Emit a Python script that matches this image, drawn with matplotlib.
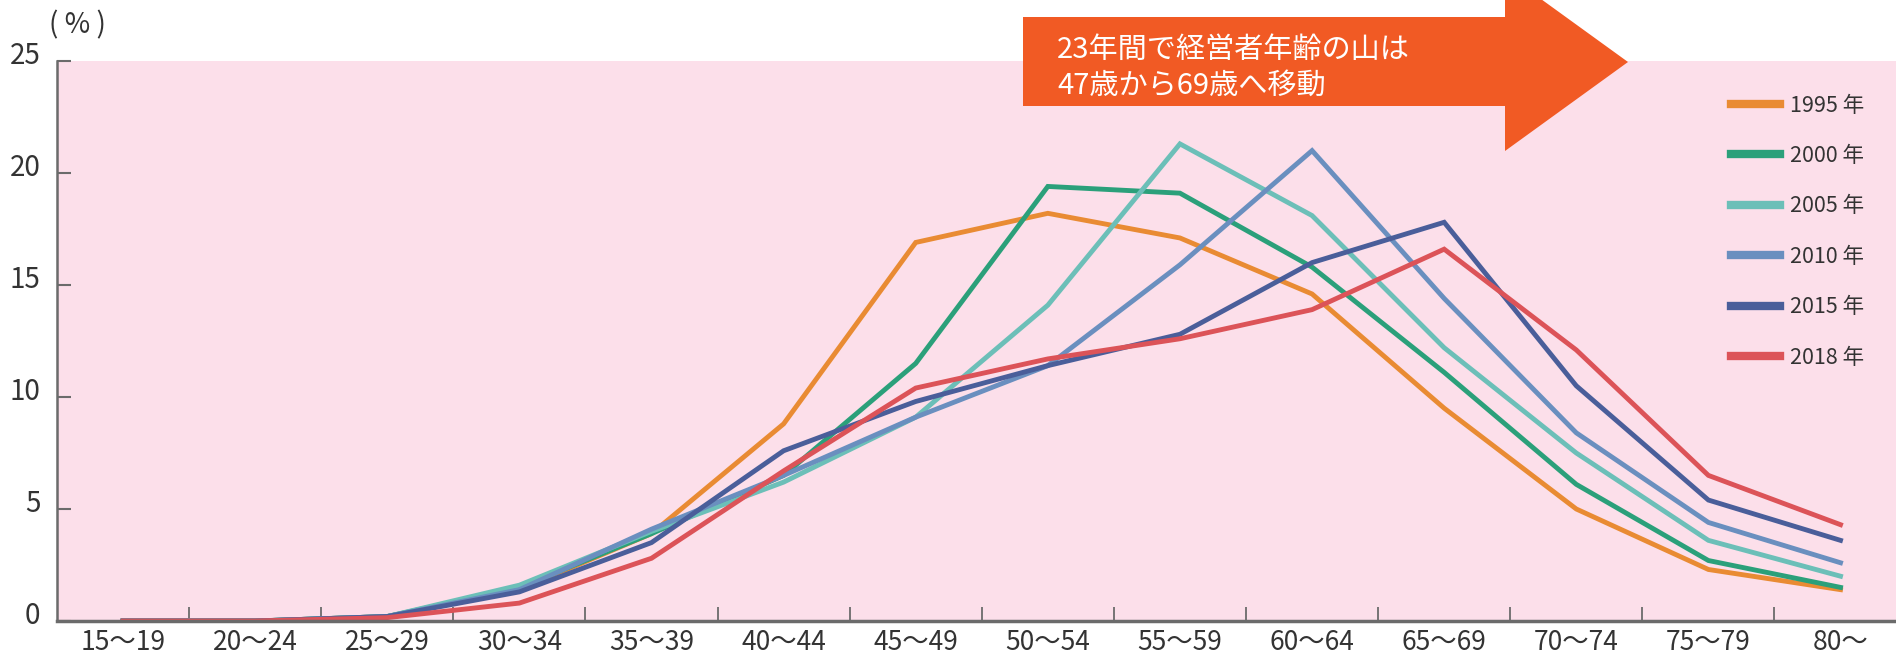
import numpy as np
import matplotlib.pyplot as plt
import matplotlib.transforms as mtransforms
from matplotlib.patches import Polygon

plt.rcParams['font.family'] = ['Noto Sans CJK JP', 'DejaVu Sans']

# 年齢階級
categories = ['15〜19', '20〜24', '25〜29', '30〜34', '35〜39', '40〜44', '45〜49',
              '50〜54', '55〜59', '60〜64', '65〜69', '70〜74', '75〜79', '80〜']

# 経営者年齢の分布 (%)
y1995 = [0.0, 0.0, 0.2, 1.4, 3.9, 8.8, 16.9, 18.2, 17.1, 14.6, 9.5, 5.0, 2.3, 1.4]
y2000 = [0.0, 0.0, 0.2, 1.5, 3.9, 6.5, 11.5, 19.4, 19.1, 15.8, 11.1, 6.1, 2.7, 1.5]
y2005 = [0.0, 0.0, 0.2, 1.6, 4.0, 6.2, 9.1, 14.1, 21.3, 18.1, 12.2, 7.5, 3.6, 2.0]
y2010 = [0.0, 0.0, 0.2, 1.4, 4.1, 6.5, 9.1, 11.4, 15.9, 21.0, 14.4, 8.4, 4.4, 2.6]
y2015 = [0.0, 0.0, 0.2, 1.3, 3.5, 7.6, 9.8, 11.4, 12.8, 16.0, 17.8, 10.5, 5.4, 3.6]
y2018 = [0.0, 0.0, 0.15, 0.8, 2.8, 6.7, 10.4, 11.7, 12.6, 13.9, 16.6, 12.1, 6.5, 4.3]

series = [
    ('1995 年', y1995, '#E98B33'),
    ('2000 年', y2000, '#2BA07A'),
    ('2005 年', y2005, '#6CBFB8'),
    ('2010 年', y2010, '#6A8FBF'),
    ('2015 年', y2015, '#4A5E9A'),
    ('2018 年', y2018, '#DC5358'),
]

W, H = 1896, 656
fig = plt.figure(figsize=(W / 100, H / 100), dpi=100)
ax = fig.add_axes([57 / W, 1 - 621 / H, 1 - 57 / W, 560 / H])
ax.set_facecolor('#FCDFEA')

x = np.arange(len(categories))
for name, vals, col in series:
    ax.plot(x, vals, color=col, lw=3.5, label=name, solid_joinstyle='miter')

ax.set_xlim(-0.5, 13.42)
ax.set_ylim(0, 25)

gray = '#6b6b6b'
for s in ['top', 'right']:
    ax.spines[s].set_visible(False)
ax.spines['left'].set_color(gray)
ax.spines['left'].set_linewidth(1.8)
ax.spines['bottom'].set_color(gray)
ax.spines['bottom'].set_linewidth(2.5)

ax.set_xticks(x)
ax.set_xticklabels(categories, fontsize=19, color='#333333')
ax.set_xticks(np.arange(0.5, 13, 1), minor=True)
ax.tick_params(axis='x', which='major', length=0, pad=6)
ax.tick_params(axis='x', which='minor', direction='in', length=10, width=1.3, color=gray)

ax.set_yticks([0, 5, 10, 15, 20, 25])
ax.set_yticklabels(['0', '5', '10', '15', '20', '25'], fontsize=20, color='#333333')
ax.tick_params(axis='y', direction='in', length=10, width=1.5, color=gray, pad=12)
# 目盛ラベルを少し上へ
up = mtransforms.ScaledTranslation(0, 8 / 100, fig.dpi_scale_trans)
for lab in ax.get_yticklabels():
    lab.set_transform(lab.get_transform() + up)

fig.text(77 / W, 1 - 25 / H, '( % )', fontsize=20, color='#333333', ha='center', va='center')

# 矢印
arrow_pts = [(1023, 17), (1505, 17), (1505, -27), (1628, 62),
             (1505, 151), (1505, 106), (1023, 106)]
arrow = Polygon([(px / W, 1 - py / H) for px, py in arrow_pts], closed=True,
                transform=fig.transFigure, facecolor='#F15A24', edgecolor='none', zorder=5)
fig.patches.append(arrow)
fig.text(1057 / W, 1 - 50 / H, '23年間で経営者年齢の山は', fontsize=21, color='white',
         ha='left', va='center', zorder=6)
fig.text(1057 / W, 1 - 86 / H, '47歳から69歳へ移動', fontsize=21, color='white',
         ha='left', va='center', zorder=6)

leg = ax.legend(loc='upper left', bbox_to_anchor=(1722 / W, 1 - 86 / H),
                bbox_transform=fig.transFigure, frameon=False, fontsize=15.5,
                handlelength=2.3, handletextpad=0.45, labelspacing=1.32,
                borderaxespad=0)
for line in leg.get_lines():
    line.set_linewidth(6)
for t in leg.get_texts():
    t.set_color('#333333')

fig.savefig('out.png', dpi=100)
